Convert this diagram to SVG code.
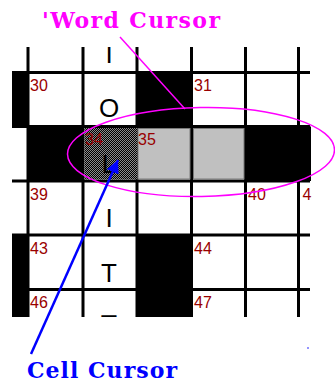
<svg xmlns="http://www.w3.org/2000/svg" width="335" height="385" viewBox="0 0 335 385">
<style>
.gl{stroke:#000;stroke-width:3;fill:none}
.blk{fill:#000}
.gry{fill:#c0c0c0;stroke:#7a7a7a;stroke-width:1}
.num{font-family:"Liberation Sans",Arial,sans-serif;font-size:16px;fill:#990000}
.let{font-family:"Liberation Sans",Arial,sans-serif;font-size:26px;fill:#000;text-anchor:middle}
.lab{font-family:"DejaVu Serif","Liberation Serif",serif;font-size:22px;font-weight:bold}
</style>
<defs>
<clipPath id="gridclip"><rect x="0" y="47" width="312" height="270"/></clipPath>
<pattern id="chk" width="2" height="2" patternUnits="userSpaceOnUse">
<rect width="2" height="2" fill="#000"/>
<rect width="1" height="1" fill="#8c8c8c"/>
<rect x="1" y="1" width="1" height="1" fill="#8c8c8c"/>
</pattern>
<marker id="ah" markerUnits="userSpaceOnUse" markerWidth="14" markerHeight="14" refX="13" refY="6.5" orient="auto">
<path d="M0,0 L13,6.5 L0,13 z" fill="#0000ff"/>
</marker>
</defs>
<g id="grid" clip-path="url(#gridclip)">
<g id="black-cells">
<rect class="blk" x="12" y="72.5" width="16" height="54"/>
<rect class="blk" x="137" y="72.5" width="54.5" height="54"/>
<rect class="blk" x="28" y="126.5" width="55" height="54.5"/>
<rect class="blk" x="245.5" y="126.5" width="65.5" height="54.5"/>
<rect class="blk" x="12" y="235" width="16" height="82"/>
<rect class="blk" x="137" y="235" width="54.5" height="82"/>
</g>
<g id="lines">
<path class="gl" d="M28,47V317M83,47V317M137,47V317M191.5,47V317M245.5,47V317M298.5,47V317"/>
<path class="gl" d="M12,72.5H310M12,126.5H310M12,181H310M12,235H310M12,289.5H310"/>
</g>
<g id="cell-34"><rect x="84.5" y="128" width="53" height="51.5" fill="url(#chk)"/><text class="num" x="85" y="145">34</text><text class="let" x="109" y="173">L</text></g>
<g id="cell-35"><rect class="gry" x="138" y="128.5" width="52" height="50.5"/><text class="num" x="138" y="145">35</text></g>
<g id="cell-36"><rect class="gry" x="193.5" y="128.5" width="50.5" height="50.5"/></g>
<g id="numbers">
<text class="num" x="30" y="91">30</text>
<text class="num" x="194" y="91">31</text>
<text class="num" x="30" y="200">39</text>
<text class="num" x="248" y="200">40</text>
<text class="num" x="302.5" y="200">4</text>
<text class="num" x="30" y="254">43</text>
<text class="num" x="194" y="254">44</text>
<text class="num" x="30" y="308">46</text>
<text class="num" x="194" y="308">47</text>
</g>
<g id="letters">
<text class="let" x="109" y="63">I</text>
<text class="let" x="109" y="117">O</text>
<text class="let" x="109" y="227">I</text>
<text class="let" x="109" y="282">T</text>
<text class="let" x="109" y="312">_</text>
</g>
</g>
<g id="word-cursor">
<ellipse cx="201" cy="152" rx="133.5" ry="44.5" transform="rotate(-1 201 152)" fill="none" stroke="#ff00ff" stroke-width="1.5"/>
<text class="lab" x="42" y="28" fill="#ff00ff" textLength="178" lengthAdjust="spacing">'Word Cursor</text>
</g>
<g id="cell-cursor">
<text class="lab" x="27" y="378" fill="#0000ff" textLength="150" lengthAdjust="spacing">Cell Cursor</text>
</g>
<g id="connectors">
<line x1="120" y1="37" x2="185" y2="109" stroke="#ff00ff" stroke-width="1.5"/>
<line x1="31" y1="354" x2="118" y2="160" stroke="#0000ff" stroke-width="2.5" marker-end="url(#ah)"/>
</g>
<circle cx="308" cy="348" r="1" fill="#7070ff"/>
</svg>
